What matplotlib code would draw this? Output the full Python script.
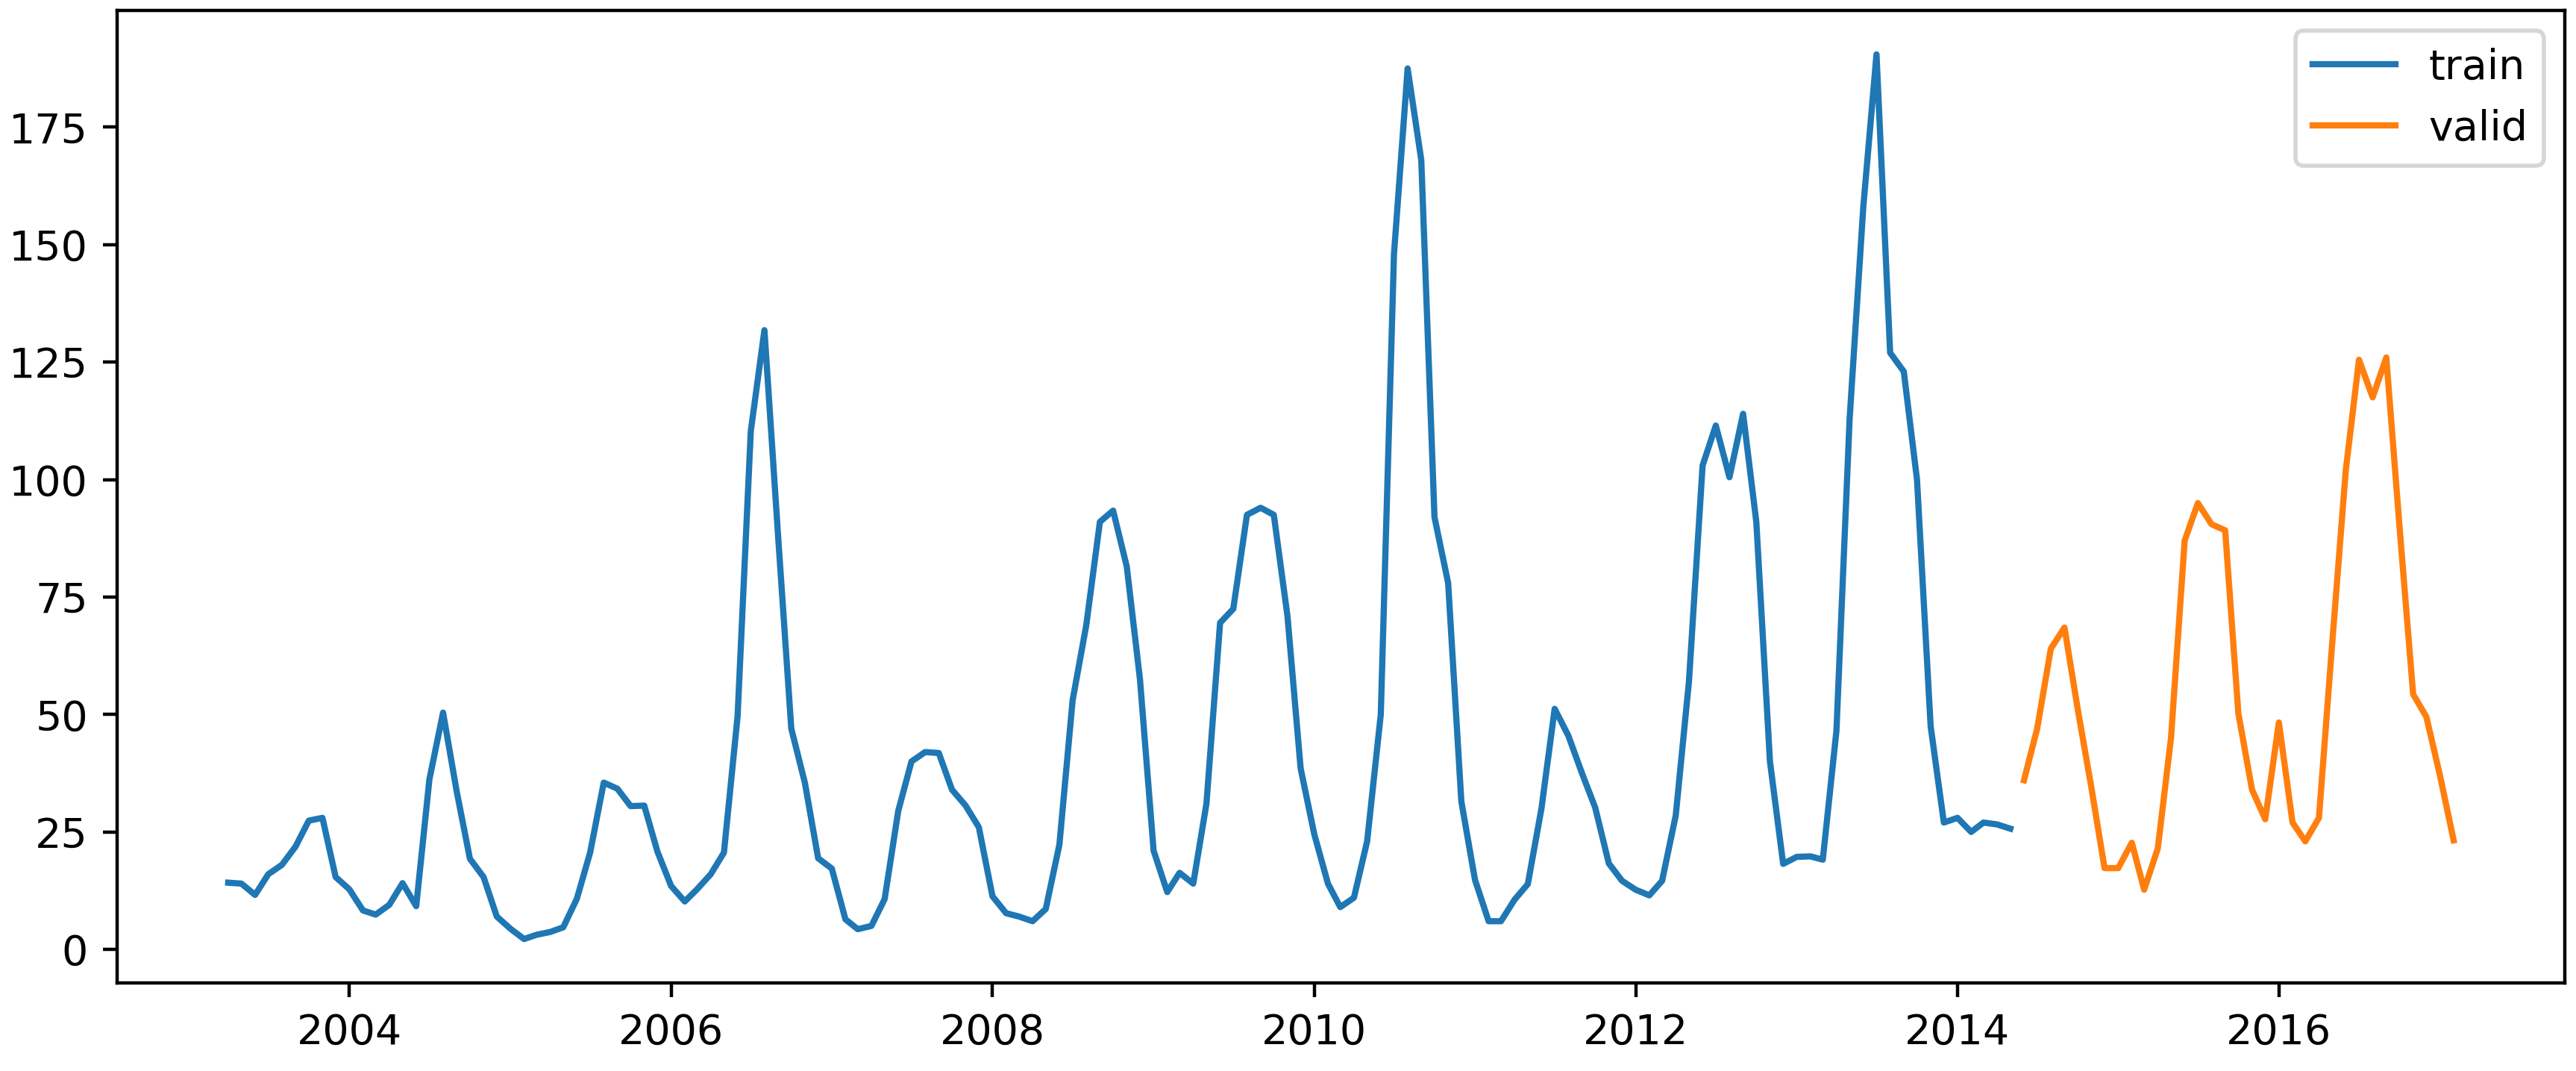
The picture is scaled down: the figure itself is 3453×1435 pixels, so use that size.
import matplotlib
matplotlib.use("Agg")
import matplotlib.pyplot as plt
import pandas as pd

# Monthly series, train part starts April 2003, valid part starts June 2014
train_start = "2003-04-01"
valid_start = "2014-06-01"

train_values = [
    14.2, 14.0, 11.6, 16.0, 18.0, 21.9, 27.4, 28.0, 15.4, 12.8, 8.3, 7.4,
    9.5, 14.1, 9.2, 36.2, 50.4, 33.6, 19.3, 15.4, 7.0, 4.4, 2.2, 3.1,
    3.7, 4.7, 10.8, 20.6, 35.5, 34.2, 30.5, 30.6, 20.8, 13.5, 10.2, 12.8,
    16.0, 20.6, 49.6, 110.3, 131.8, 88.0, 47.0, 35.4, 19.4, 17.2, 6.4, 4.3,
    5.0, 10.7, 29.5, 40.0, 42.0, 41.8, 34.0, 30.6, 26.0, 11.3, 7.7, 7.0,
    6.0, 8.6, 22.3, 53.0, 69.0, 91.0, 93.4, 81.5, 57.5, 21.0, 12.2, 16.3,
    14.0, 31.0, 69.5, 72.5, 92.5, 94.0, 92.5, 71.0, 38.5, 24.5, 14.0, 9.0,
    11.0, 23.0, 50.0, 148.0, 187.5, 168.0, 92.0, 78.0, 31.5, 14.8, 6.0, 6.0,
    10.6, 13.9, 30.0, 51.2, 45.5, 37.5, 30.2, 18.3, 14.6, 12.7, 11.5, 14.6,
    28.5, 57.0, 103.0, 111.5, 100.5, 114.0, 91.0, 40.0, 18.2, 19.7, 19.8, 19.1,
    46.5, 113.0, 158.0, 190.5, 127.0, 123.0, 100.0, 47.5, 27.0, 28.0, 25.0, 27.0,
    26.6, 25.7,
]

valid_values = [
    36.0, 47.0, 64.0, 68.5, 51.2, 34.5, 17.3, 17.3, 22.7, 12.7, 21.5, 45.0,
    87.0, 95.0, 90.5, 89.2, 50.2, 34.0, 27.7, 48.3, 27.0, 23.0, 28.0, 65.0,
    102.0, 125.5, 117.5, 126.0, 90.0, 54.3, 49.5, 37.0, 23.2,
]

train_dates = pd.date_range(train_start, periods=len(train_values), freq="MS")
valid_dates = pd.date_range(valid_start, periods=len(valid_values), freq="MS")

fig = plt.figure(figsize=(3453 / 400, 1435 / 400), dpi=400)
ax = fig.add_axes([0.0454, 0.0819, 0.9503, 0.9086])
ax.plot(train_dates, train_values, label="train")
ax.plot(valid_dates, valid_values, label="valid")
ax.legend(loc="upper right")

fig.savefig("out.png", dpi=400)
